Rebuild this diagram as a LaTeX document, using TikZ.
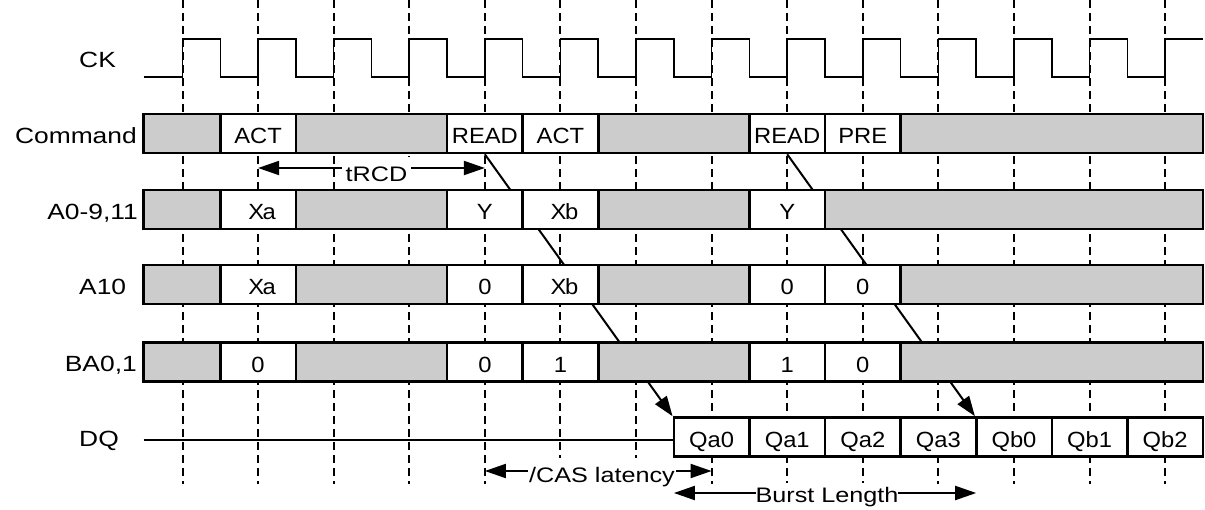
\documentclass[tikz,border=0pt]{standalone}
\usepackage{fontspec}
\setmainfont{Liberation Sans}[FakeStretch=1.08]
\newfontfamily\widefont{Liberation Sans}[FakeStretch=1.2]
\usetikzlibrary{arrows.meta,backgrounds}
\definecolor{cellgray}{RGB}{204,204,204}
\newcommand\tcell[6]{%
  \pgfmathsetmacro\cxa{(#2<0) ? 143.5 : (220.3+75.59*(#2))}%
  \pgfmathsetmacro\cxb{220.3+75.59*(#3)}%
  \pgfmathsetmacro\cxm{(\cxa+\cxb)/2}%
  \pgfmathsetmacro\cwdt{\cxb-\cxa}%
  \pgfmathsetmacro\cym{#4+19.5}%
  \node[#5, minimum width=\cwdt pt] (#1) at (\cxm,\cym) {#6};}
\begin{document}
\begin{tikzpicture}[x=1pt,y=-1pt,
  lbl/.style={font=\widefont\fontsize{22}{24}\selectfont, inner sep=0pt},
  cellbox/.style={draw, line width=2.6pt, minimum height=39pt, inner sep=0pt,
    font=\fontsize{22}{24}\selectfont, text height=20pt, text depth=0pt},
  gc/.style={cellbox, fill=cellgray},
  wc/.style={cellbox, fill=white},
  gridline/.style={line width=2pt, dash pattern=on 8pt off 5pt},
  clk/.style={line width=1.6pt},
  diag/.style={line width=2pt, -{Triangle[length=20pt,width=14pt]}},
  dim/.style={line width=2pt, {Triangle[length=21pt,width=14pt]}-{Triangle[length=21pt,width=14pt]}},
  note/.style={fill=white, font=\widefont\fontsize{21}{23}\selectfont, text height=16pt, text depth=0pt, inner sep=0pt}
]
\useasboundingbox (0,0) rectangle (1205,509);
\begin{scope}[on background layer]
  \fill[white] (0,0) rectangle (1205,509);
  \foreach \k in {0,...,13} \draw[gridline] ({182.5+75.59*\k},0) -- ({182.5+75.59*\k},484);
\end{scope}

% row labels
\node[lbl, anchor=base west] (lCK) at (79,67.5) {CK};
\node[lbl, anchor=base east] (lCmd) at (137,143) {Command};
\node[lbl, anchor=base east] (lAdr) at (138,219) {A0-9,11};
\node[lbl, anchor=base west] (lA10) at (79,294.5) {A10};
\node[lbl, anchor=base east] (lBA) at (137,371.5) {BA0,1};
\node[lbl, anchor=base west] (lDQ) at (79,446) {DQ};

% clock
\draw[clk] (143.5,77)
  \foreach \k in {0,...,12} { -- ({182.5+75.59*\k},77) -- ({182.5+75.59*\k},39) -- ({220.3+75.59*\k},39) -- ({220.3+75.59*\k},77) }
  -- ({182.5+75.59*13},77) -- ({182.5+75.59*13},39) -- (1203,39);

% Command row
\tcell{c0}{-1}{0}{114}{gc}{}
\tcell{c1}{0}{1}{114}{wc}{ACT}
\tcell{c2}{1}{3}{114}{gc}{}
\tcell{cREADa}{3}{4}{114}{wc}{READ}
\tcell{c4}{4}{5}{114}{wc}{ACT}
\tcell{c5}{5}{7}{114}{gc}{}
\tcell{cREADb}{7}{8}{114}{wc}{READ}
\tcell{c7}{8}{9}{114}{wc}{PRE}
\tcell{c8}{9}{13}{114}{gc}{}

% A0-9,11 row
\tcell{a0}{-1}{0}{190}{gc}{}
\tcell{a1}{0}{1}{190}{wc}{\hspace*{8pt}X\kern-1.5pt a}
\tcell{a2}{1}{3}{190}{gc}{}
\tcell{a3}{3}{4}{190}{wc}{Y}
\tcell{a4}{4}{5}{190}{wc}{\hspace*{8pt}X\kern-1.5pt b}
\tcell{a5}{5}{7}{190}{gc}{}
\tcell{a6}{7}{8}{190}{wc}{Y}
\tcell{a7}{8}{13}{190}{gc}{}

% A10 row
\tcell{b0}{-1}{0}{265}{gc}{}
\tcell{b1}{0}{1}{265}{wc}{\hspace*{8pt}X\kern-1.5pt a}
\tcell{b2}{1}{3}{265}{gc}{}
\tcell{b3}{3}{4}{265}{wc}{0}
\tcell{b4}{4}{5}{265}{wc}{\hspace*{8pt}X\kern-1.5pt b}
\tcell{b5}{5}{7}{265}{gc}{}
\tcell{b6}{7}{8}{265}{wc}{0}
\tcell{b7}{8}{9}{265}{wc}{0}
\tcell{b8}{9}{13}{265}{gc}{}

% BA0,1 row
\tcell{d0}{-1}{0}{342.5}{gc}{}
\tcell{d1}{0}{1}{342.5}{wc}{0}
\tcell{d2}{1}{3}{342.5}{gc}{}
\tcell{d3}{3}{4}{342.5}{wc}{0}
\tcell{d4}{4}{5}{342.5}{wc}{1}
\tcell{d5}{5}{7}{342.5}{gc}{}
\tcell{d6}{7}{8}{342.5}{wc}{1}
\tcell{d7}{8}{9}{342.5}{wc}{0}
\tcell{d8}{9}{13}{342.5}{gc}{}

% DQ row
\tcell{dQa0}{6}{7}{417.5}{wc}{Qa0}
\tcell{dQa1}{7}{8}{417.5}{wc}{Qa1}
\tcell{dQa2}{8}{9}{417.5}{wc}{Qa2}
\tcell{dQa3}{9}{10}{417.5}{wc}{Qa3}
\tcell{dQb0}{10}{11}{417.5}{wc}{Qb0}
\tcell{dQb1}{11}{12}{417.5}{wc}{Qb1}
\tcell{dQb2}{12}{13}{417.5}{wc}{Qb2}
\coordinate (dqs) at (143.5,440);
\draw[line width=2.2pt] (dqs) -- (dqs -| dQa0.west);

% latency diagonals, behind the rows
\begin{scope}[on background layer]
  \draw[diag] (cREADa.south) -- (dQa0.north west);
  \draw[diag] (cREADb.south) -- (dQb0.north west);
\end{scope}

% dimension arrows
\coordinate (rcdL) at (258.1,168);
\coordinate (rcdR) at (484.9,168);
\draw[dim] (rcdL) -- (rcdR);
\node[note, minimum width=69pt, minimum height=32pt] (rcd) at (376.5,173) {tRCD};

\coordinate (casL) at (484.9,471);
\coordinate (casR) at (711.6,471);
\draw[dim] (casL) -- (casR);
\node[note, inner xsep=1pt, minimum height=33pt] (cas) at (602,474) {/CAS latency};

\coordinate (blL) at (673.9,493);
\coordinate (blR) at (976.2,493);
\draw[dim] (blL) -- (blR);
\node[note, minimum height=22pt] (bl) at (827,494) {Burst Length};
\end{tikzpicture}
\end{document}
